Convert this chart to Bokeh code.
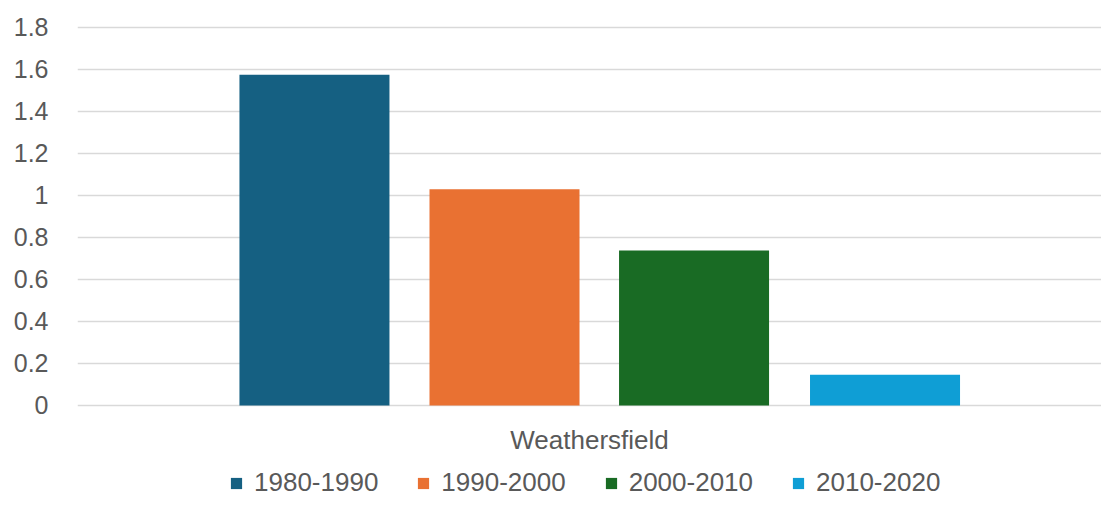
from bokeh.plotting import figure
from bokeh.models import FactorRange, Range1d, Legend, LegendItem, ColumnDataSource, FixedTicker
from bokeh.transform import dodge
from bokeh.embed import file_html
from bokeh.resources import INLINE

# ---- data ----
categories = ["Weathersfield"]
series_names = ["1980-1990", "1990-2000", "2000-2010", "2010-2020"]
series_values = [1.575, 1.03, 0.738, 0.146]
y_ticks = [0, 0.2, 0.4, 0.6, 0.8, 1.0, 1.2, 1.4, 1.6, 1.8]

# ---- styles ----
colors = ["#156082", "#E97132", "#196B24", "#0F9ED5"]
offsets = [-0.2686, -0.0830, 0.1021, 0.2886]
bar_width = 0.1465
text_color = "#595959"
grid_color = "#D9D9D9"
font = "Liberation Sans"

# frame spans the full lower area so the legend can sit inside it
p = figure(width=1101, height=498, x_range=FactorRange(factors=categories),
           y_range=Range1d(-0.4429, 1.8476), output_backend="svg",
           toolbar_location=None,
           min_border_left=77, min_border_right=0, min_border_top=17,
           min_border_bottom=0)
p.outline_line_color = None
p.background_fill_color = "white"
p.border_fill_color = "white"

items = []
for name, val, col, off in zip(series_names, series_values, colors, offsets):
    src = ColumnDataSource(dict(x=categories, top=[val]))
    r = p.vbar(x=dodge("x", off, range=p.x_range), top="top", bottom=0,
               width=bar_width, source=src, fill_color=col, line_color=None)
    items.append(LegendItem(label=name, renderers=[r]))

# y axis
p.yaxis.ticker = FixedTicker(ticks=y_ticks)
p.yaxis.major_label_overrides = {0: "0", 1: "1"}
p.yaxis.axis_line_color = None
p.yaxis.major_tick_line_color = None
p.yaxis.minor_tick_line_color = None
p.yaxis.major_tick_out = 0
p.yaxis.major_label_standoff = 29
p.yaxis.major_label_text_font = font
p.yaxis.major_label_text_font_size = "25px"
p.yaxis.major_label_text_color = text_color

# x axis, pinned at y = 0
p.xaxis.fixed_location = 0
p.xaxis.axis_line_color = None
p.xaxis.major_tick_line_color = None
p.xaxis.minor_tick_line_color = None
p.xaxis.major_tick_out = 0
p.xaxis.major_tick_in = 0
p.xaxis.major_label_standoff = 20
p.xaxis.major_label_text_font = font
p.xaxis.major_label_text_font_size = "26px"
p.xaxis.major_label_text_color = text_color

p.xgrid.grid_line_color = None
p.ygrid.grid_line_color = grid_color
p.ygrid.grid_line_width = 1.5
p.ygrid.ticker = FixedTicker(ticks=y_ticks)

legend = Legend(items=items, orientation="horizontal", location=(152, 0),
                glyph_width=14, glyph_height=14, label_standoff=11, spacing=38,
                margin=0, padding=0, border_line_color=None, background_fill_alpha=0,
                label_text_font=font, label_text_font_size="26px",
                label_text_color=text_color)
p.add_layout(legend, "center")

open("out.html", "w").write(file_html(p, INLINE))
